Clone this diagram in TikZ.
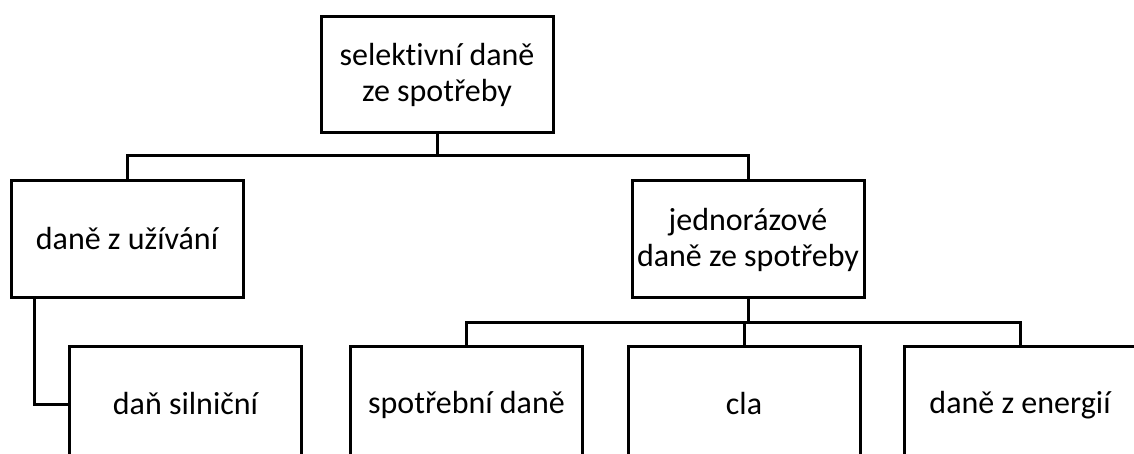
\documentclass[tikz,border=0pt]{standalone}
\usepackage{fontspec}
\setmainfont[RawFeature=-liga]{Carlito}
\newcommand\lnstrut{\rule[-3pt]{0pt}{27pt}}
\begin{document}
\begin{tikzpicture}[x=1pt,y=-1pt,
  box/.style={draw=black,line width=3pt,rectangle,minimum width=232pt,minimum height=116pt,inner sep=0pt,align=center,font=\fontsize{32}{36}\selectfont},
  conn/.style={draw=black,line width=3pt}]
\useasboundingbox (0,0) rectangle (1134,454);
\clip (0,0) rectangle (1134,454);
\node[box] (top) at (437,74.5) {\lnstrut selektivní daně\\\lnstrut ze spotřeby};
\node[box] (uz) at (127,239) {\lnstrut daně z užívání};
\node[box] (jed) at (748,239) {\lnstrut jednorázové\\\lnstrut daně ze spotřeby};
\node[box] (sil) at (185.5,404) {\lnstrut daň silniční};
\node[box] (spo) at (466.5,404) {\lnstrut spotřební daně};
\node[box] (cla) at (744,404) {\lnstrut cla};
\node[box] (ene) at (1020,404) {\lnstrut daně z energií};
\coordinate (h1) at (437,156);
\coordinate (h2) at (748,322);
\draw[conn] (top.south) -- (h1);
\draw[conn] (uz.north) |- (h1) -| (jed.north);
\draw[conn] (jed.south) -- (h2);
\draw[conn] (spo.north) |- (h2) -| (ene.north);
\draw[conn] (cla.north) -- (cla.north |- h2);
\draw[conn] ([xshift=-93pt]uz.south) |- (sil.west);
\end{tikzpicture}
\end{document}
